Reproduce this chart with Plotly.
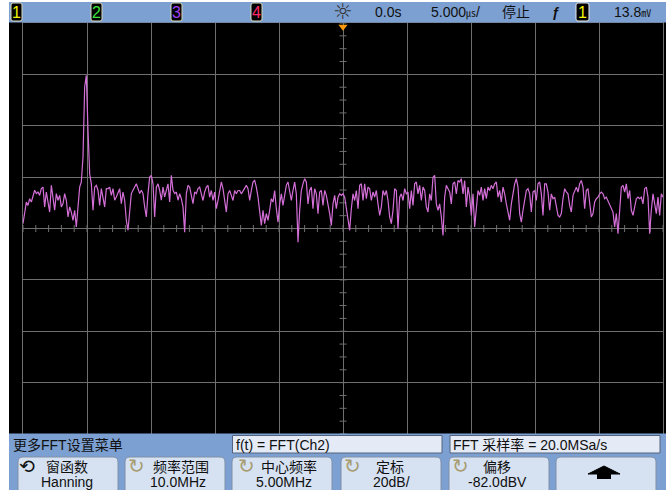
import numpy as np
import plotly.graph_objects as go

# ---------------- data ----------------
freq_start_mhz = 0.0
freq_stop_mhz = 10.0
center_dbv = -82.0      # offset
db_per_div = 20.0       # scale

# FFT magnitude in dBV, three consecutive pieces of the same trace
spectrum_part1 = [
    -80.1, -74.9, -71.7, -73.0, -70.4, -71.7, -69.7, -67.1, -68.4, -67.8,
    -69.1, -66.5, -65.9, -73.6, -67.8, -72.3, -75.6, -65.2, -71.0, -74.9,
    -68.4, -71.0, -69.1, -73.6, -72.3, -68.4, -71.0, -77.5, -73.6, -75.6,
    -78.8, -74.9, -81.4, -73.6, -65.9, -63.9, -54.2, -26.9, -22.4, -43.8,
    -60.7, -64.6, -74.9, -65.9, -65.2, -67.1, -73.0, -66.5, -69.7, -73.6,
    -66.5, -66.5, -65.9, -69.1, -66.5, -71.0, -69.7, -68.4, -66.5, -72.3,
    -67.8, -71.0, -78.8, -82.7, -73.6, -68.4, -67.1, -65.9, -64.6, -66.5,
    -68.4, -67.1, -68.4, -73.6, -77.5, -68.4, -62.0, -61.3, -64.6, -77.5,
    -65.9, -64.6, -67.1, -71.0, -65.9, -69.7, -67.1, -64.6, -71.7, -61.3,
    -67.1, -68.4, -67.8, -71.0, -68.4, -70.4, -73.6, -83.4, -68.4, -65.2,
    -65.9, -69.7, -72.3, -67.8, -68.4, -66.5, -65.9,
]
spectrum_part2 = [
    -68.5, -71.1, -67.8, -65.9, -65.2, -69.8, -67.2, -71.1, -67.8, -74.3,
    -71.1, -67.2, -63.9, -66.5, -71.1, -75.6, -68.5, -67.2, -69.1, -71.1,
    -67.2, -68.5, -67.2, -67.2, -68.5, -67.2, -65.9, -65.2, -66.5, -71.1,
    -67.2, -63.9, -63.3, -65.9, -69.8, -76.2, -80.8, -74.9, -80.1, -76.2,
    -78.8, -74.9, -70.4, -71.7, -67.2, -74.3, -79.5, -72.4, -68.5, -73.0,
    -68.5, -65.2, -63.9, -68.5, -71.1, -67.2, -63.9, -68.5, -87.3, -74.9,
    -67.2, -64.6, -62.6, -63.9, -72.4, -67.2, -65.9, -74.3, -66.5, -68.5,
    -76.2, -67.8, -67.2, -73.0, -67.2, -69.1, -72.4, -76.2, -80.8, -72.4,
    -69.1, -74.3, -69.8, -68.5, -69.1, -68.5, -69.8, -73.6, -78.2, -82.7,
    -74.3, -68.5, -71.1, -67.2, -74.3, -65.2, -64.6, -71.1, -64.6, -70.4,
    -65.9, -66.5, -71.1, -67.8, -69.8, -67.2, -72.4, -76.9, -73.6, -67.2,
    -69.1, -67.2, -71.1, -77.5, -80.1, -74.9, -66.5, -67.2, -82.1, -69.8,
    -68.5, -71.1, -66.5, -68.5, -67.8, -74.3, -67.2, -73.0, -64.6, -63.9,
    -68.5, -65.2, -71.1, -65.9, -67.2, -73.6, -75.6, -68.5,
]
spectrum_part3 = [
    -71.1, -62.0, -61.3, -72.4, -74.9, -72.4, -77.5, -84.7, -69.8, -65.2,
    -66.5, -67.8, -72.4, -64.6, -63.9, -68.5, -63.3, -63.9, -62.6, -68.5,
    -63.3, -73.6, -65.9, -69.8, -76.9, -68.5, -81.4, -74.3, -67.2, -69.1,
    -65.9, -71.1, -66.5, -70.4, -65.9, -67.2, -65.2, -66.5, -64.6, -63.9,
    -69.8, -67.2, -71.7, -65.9, -68.5, -72.4, -76.2, -78.8, -72.4, -68.5,
    -64.6, -62.6, -65.9, -76.2, -79.5, -74.9, -71.1, -67.2, -66.5, -68.5,
    -75.6, -67.8, -67.2, -71.1, -64.6, -63.9, -68.5, -76.9, -64.6, -64.6,
    -67.8, -74.9, -68.5, -70.4, -69.8, -73.0, -76.9, -77.5, -76.2, -70.4,
    -66.5, -67.8, -68.5, -73.0, -75.6, -69.1, -67.8, -65.9, -67.8, -64.6,
    -63.3, -65.9, -74.3, -67.2, -66.5, -72.4, -77.5, -76.2, -71.7, -70.4,
    -69.8, -68.5, -67.8, -68.5, -70.4, -69.8, -71.1, -73.0, -74.3, -75.6,
    -81.4, -76.2, -84.0, -72.4, -65.9, -65.2, -67.8, -64.6, -70.4, -67.2,
    -74.9, -76.9, -73.0, -70.4, -69.8, -70.4, -69.8, -72.4, -66.5, -65.9,
    -69.8, -84.0, -74.9, -68.5, -72.4, -76.2, -69.8, -76.9, -68.5, -69.8,
]

channel_labels = ["1", "2", "3", "4"]
status_texts = ["0.0s", "5.000<span style='font-size:10px'>㎲</span>/", "停止", "ƒ", "13.8<span style='font-size:10px'>㎷</span>"]
menu_title = "更多FFT设置菜单"
info_texts = ["f(t) = FFT(Ch2)", "FFT 采样率 = 20.0MSa/s"]
softkey_labels = ["窗函数", "频率范围", "中心频率", "定标", "偏移"]
softkey_values = ["Hanning", "10.0MHz", "5.00MHz", "20dB/", "-82.0dBV"]

# ---------------- figure ----------------
spectrum_dbv = spectrum_part1 + spectrum_part2 + spectrum_part3
freq_mhz = np.linspace(freq_start_mhz, freq_stop_mhz, len(spectrum_dbv))
y_lo = center_dbv - 4 * db_per_div
y_hi = center_dbv + 4 * db_per_div

W, H = 666, 490
ML, MR, MT, MB = 23, 3, 23, 56
PW, PH = W - ML - MR, H - MT - MB


def px(x):
    return (x - ML) / PW


def py(y):
    return (H - MB - y) / PH


GRID = "#6f6f6f"
BLUE = "#7da0d2"
FONT = "Liberation Sans, Arial, Noto Sans CJK SC, sans-serif"

fig = go.Figure()

# center-axis minor ticks
xt = np.arange(0, 10.0001, 0.2)
fig.add_trace(go.Scatter(x=xt, y=[center_dbv] * len(xt), mode="markers",
                         marker=dict(symbol="line-ns", size=5, line=dict(color=GRID, width=1)),
                         hoverinfo="skip"))
yt = np.arange(y_lo, y_hi + 0.001, db_per_div / 4)
fig.add_trace(go.Scatter(x=[5.0] * len(yt), y=yt, mode="markers",
                         marker=dict(symbol="line-ew", size=5, line=dict(color=GRID, width=1)),
                         hoverinfo="skip"))

# spectrum trace
fig.add_trace(go.Scatter(x=freq_mhz, y=spectrum_dbv, mode="lines",
                         line=dict(color="#d46fd8", width=1.2)))

# trigger position marker
fig.add_trace(go.Scatter(x=[5.0], y=[y_hi - 1.5], mode="markers", cliponaxis=False,
                         marker=dict(symbol="triangle-down", size=8, color="#ff9a10"),
                         hoverinfo="skip"))

shapes = []


def rect(x0, y0, x1, y1, fill, line=None, lw=0):
    shapes.append(dict(type="rect", xref="paper", yref="paper",
                       x0=px(x0), x1=px(x1), y0=py(y1), y1=py(y0),
                       fillcolor=fill, line=dict(color=line or fill, width=lw), layer="above"))


def rrect(x0, y0, x1, y1, r, fill, line, lw=1):
    p = (f"M {px(x0 + r)} {py(y0)} L {px(x1 - r)} {py(y0)} Q {px(x1)} {py(y0)} {px(x1)} {py(y0 + r)} "
         f"L {px(x1)} {py(y1 - r)} Q {px(x1)} {py(y1)} {px(x1 - r)} {py(y1)} "
         f"L {px(x0 + r)} {py(y1)} Q {px(x0)} {py(y1)} {px(x0)} {py(y1 - r)} "
         f"L {px(x0)} {py(y0 + r)} Q {px(x0)} {py(y0)} {px(x0 + r)} {py(y0)} Z")
    shapes.append(dict(type="path", xref="paper", yref="paper", path=p,
                       fillcolor=fill, line=dict(color=line, width=lw), layer="above"))


# frame pieces
rect(0, 0, 9, 490, "white")
rect(0, 0, 666, 2, "white")
rect(9, 2, 666, 22.6, BLUE)
rect(9, 433.5, 666, 490, BLUE)

# channel boxes
ch_colors = ["#f4f400", "#3ce43c", "#a040f0", "#ff2a6a"]
ch_x = [11, 91, 171, 251]
for x0 in ch_x:
    rrect(x0, 3, x0 + 11, 21, 2, "black", "#d8d8b8")
rrect(576, 3, 589, 21, 2, "black", "#e8e8e8")

# info boxes
rect(232.5, 435.5, 442, 453, "#e4ebf6", "#55627c", 1)
rect(450, 435.5, 660, 453, "#e4ebf6", "#55627c", 1)

# softkeys
key_x = [18, 125, 232, 341, 449, 556]
for x0 in key_x:
    rrect(x0, 457, x0 + 100, 496, 5, "#d6e2f2", "#8090a8")

# up arrow on last key
shapes.append(dict(type="path", xref="paper", yref="paper",
                   path=(f"M {px(588)} {py(474)} L {px(620)} {py(474)} L {px(604)} {py(466)} Z"),
                   fillcolor="black", line=dict(color="black", width=1), layer="above"))
rect(597, 474, 611, 479, "black")

annotations = []


def text(x, y, s, size=14, color="#101010", anchor="center", family=FONT):
    annotations.append(dict(x=px(x), y=py(y), xref="paper", yref="paper", text=s,
                            showarrow=False, xanchor=anchor, yanchor="middle",
                            font=dict(size=size, color=color, family=family)))


for x0, lab, col in zip(ch_x, channel_labels, ch_colors):
    text(x0 + 5.5, 12.5, lab, size=16, color=col)
text(582.5, 12.5, "1", size=16, color="#f4f400")

text(343, 12, "☼", size=22, color="#303030", family="DejaVu Sans")
text(388, 12, status_texts[0])
text(429, 12, status_texts[1], anchor="left")
text(516, 12, status_texts[2])
text(556, 12, "<b>ƒ</b>", size=14)
text(612, 12, status_texts[4], anchor="left")

text(11, 445, menu_title, anchor="left")
text(234, 444.5, info_texts[0], anchor="left")
text(451, 444.5, info_texts[1], anchor="left")

label_cx = [67, 181, 289, 390, 497]
value_cx = [67, 178, 284, 391, 497]
icon_cx = [27, 136, 246, 352, 460]
for i in range(5):
    text(label_cx[i], 466.5, softkey_labels[i])
    text(value_cx[i], 481.5, softkey_values[i])
    if i == 0:
        text(icon_cx[i], 466, "⟲", size=19, color="#101010", family="DejaVu Sans")
    else:
        text(icon_cx[i], 466, "↻", size=20, color="#a89c70", family="DejaVu Sans")

fig.update_layout(
    width=W, height=H,
    margin=dict(l=ML, r=MR, t=MT, b=MB, pad=0),
    paper_bgcolor="black", plot_bgcolor="black",
    showlegend=False,
    xaxis=dict(range=[freq_start_mhz, freq_stop_mhz], dtick=1, tick0=0,
               showgrid=True, gridcolor=GRID, gridwidth=1, zeroline=False,
               showticklabels=False, ticks="", showline=True, mirror=True,
               linecolor=GRID, linewidth=1, fixedrange=True),
    yaxis=dict(range=[y_lo, y_hi], dtick=db_per_div, tick0=y_hi,
               showgrid=True, gridcolor=GRID, gridwidth=1, zeroline=False,
               showticklabels=False, ticks="", showline=True, mirror=True,
               linecolor=GRID, linewidth=1, fixedrange=True),
    shapes=shapes,
    annotations=annotations,
)

fig.write_html("out.html", config={"displayModeBar": False},
               post_script="document.body.style.margin='0';document.body.style.overflow='hidden';")
